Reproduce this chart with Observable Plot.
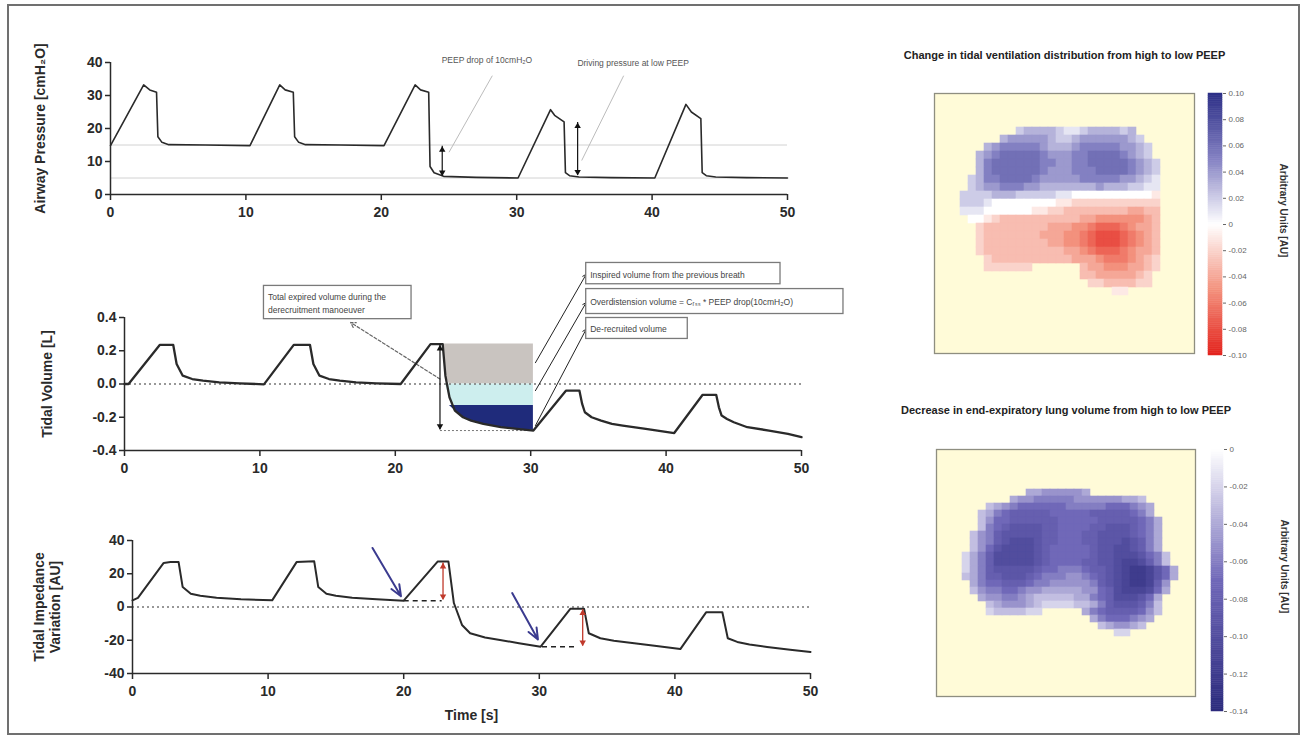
<!DOCTYPE html>
<html><head><meta charset="utf-8">
<script src="https://cdn.jsdelivr.net/npm/d3@7"></script>
<script src="https://cdn.jsdelivr.net/npm/@observablehq/plot@0.6"></script>
<style>
body{margin:0;background:#fff;}
#fig{position:relative;width:1306px;height:741px;overflow:hidden;background:#fff;font-family:"Liberation Sans",Arial,sans-serif;}
#border{position:absolute;left:7px;top:4px;width:1293px;height:731px;border:2px solid #707070;box-sizing:border-box;}
.panel{position:absolute;}
.panel svg{overflow:visible;max-width:none;}
.lp g[aria-label$="tick label"]{font-weight:bold;}
</style></head>
<body><div id="fig"><div id="border"></div></div>
<script>
// ---------------- DATA ----------------
const timeTicks = [0, 10, 20, 30, 40, 50];
const pressureTicks = [0, 10, 20, 30, 40];
const volumeTicks = [-0.4, -0.2, 0, 0.2, 0.4];
const impedanceTicks = [-40, -20, 0, 20, 40];

// Airway pressure [cmH2O]
const pressureTime  = [0, 0.2, 2.45, 2.9, 3.4, 3.5, 3.8, 4.3, 7, 10.3, 12.5, 12.9, 13.5, 13.6, 13.9, 14.4, 17, 20.2, 22.5, 22.9, 23.5, 23.6, 23.9, 24.6, 27, 30.1, 32.5, 32.8, 33.5, 33.6, 33.9, 34.6, 37, 40.2, 42.5, 42.9, 43.6, 43.7, 44.0, 44.7, 47, 50];
const pressureValue = [14.8, 16.3, 33.2, 31.7, 31.0, 17.5, 15.8, 15.1, 15, 14.8, 33.2, 31.7, 31.0, 17.5, 15.8, 15.1, 15, 14.8, 33.2, 31.7, 31.0, 8.5, 6.6, 5.5, 5.2, 5, 25.7, 24.0, 22.0, 6.6, 5.7, 5.3, 5.1, 5, 27.3, 25.0, 23.0, 6.6, 5.7, 5.3, 5.1, 5];
const peepLevels = [15, 5];
const pressureArrows = [{t: 24.5, lo: 5.6, hi: 14.6}, {t: 34.5, lo: 5.8, hi: 21.8}];
const pressureNotes = [{t: 27.8, p: 40.6, text: "PEEP drop of 10cmH₂O"}, {t: 38.6, p: 39.9, text: "Driving pressure at low PEEP"}];
const pressureLeaders = [{t1: 28.2, p1: 36, t2: 25.0, p2: 12.8}, {t1: 37.9, p1: 36, t2: 34.8, p2: 10.3}];

// Tidal volume [L]
const volumeTime  = [0, 0.3, 2.6, 3.6, 3.85, 4.3, 5.0, 5.8, 7.0, 8.5, 10.3, 12.5, 13.7, 13.95, 14.4, 15.1, 15.9, 17.1, 18.6, 20.4, 22.6, 23.5, 23.7, 24.0, 24.4, 25.0, 25.6, 26.5, 27.8, 29.0, 30.2, 32.6, 33.6, 33.8, 34.0, 34.5, 35.2, 36.0, 36.8, 38.5, 40.6, 42.7, 43.7, 43.9, 44.1, 44.5, 45.0, 46.0, 47.6, 49.0, 50];
const volumeValue = [0, 0, 0.235, 0.235, 0.12, 0.05, 0.03, 0.02, 0.01, 0.004, -0.002, 0.235, 0.235, 0.12, 0.05, 0.03, 0.02, 0.01, 0.004, 0, 0.24, 0.24, 0.05, -0.08, -0.16, -0.2, -0.22, -0.24, -0.26, -0.27, -0.28, -0.04, -0.04, -0.12, -0.17, -0.2, -0.22, -0.24, -0.25, -0.27, -0.295, -0.065, -0.065, -0.14, -0.19, -0.21, -0.23, -0.26, -0.28, -0.30, -0.32];
const manoeuvreWindow = [23.5, 30.2];
const volumeBands = [
  {name: "Inspired volume from the previous breath", lo: 0, hi: 0.24, color: "#c9c4c0"},
  {name: "Overdistension volume", lo: -0.13, hi: 0, color: "#cdeeee"},
  {name: "De-recruited volume", lo: -1, hi: -0.13, color: "#1f2b7b"}
];
const volumeBoxes = [
  {t1: 10.3, t2: 21.2, v1: 0.39, v2: 0.59, vm: 0.49, text: "Total expired volume during the\nderecruitment manoeuver"},
  {t1: 34.1, t2: 48.45, v1: 0.60, v2: 0.728, vm: 0.664, text: "Inspired volume from the previous breath"},
  {t1: 34.1, t2: 53.1, v1: 0.421, v2: 0.571, vm: 0.496, text: "Overdistension volume = Cᵣₛₛ * PEEP drop(10cmH₂O)"},
  {t1: 34.1, t2: 41.6, v1: 0.271, v2: 0.397, vm: 0.334, text: "De-recruited volume"}
];
const volumeLeaders = [
  {t1: 30.35, v1: 0.128, t2: 34.1, v2: 0.66},
  {t1: 30.35, v1: -0.04, t2: 34.1, v2: 0.49},
  {t1: 30.35, v1: -0.25, t2: 34.1, v2: 0.33}
];
const totalLeader = [{t1: 23.3, v1: 0.03, t2: 16.7, v2: 0.37}];
const totalArrow = [{t: 23.3, lo: -0.275, hi: 0.235}];
const totalBase = [{t1: 23.3, t2: 30.2, v: -0.28}];

// Tidal impedance variation [AU]
const impedanceTime  = [0, 0.4, 2.3, 2.8, 3.4, 3.7, 4.3, 5.0, 6.2, 8.0, 10.3, 12.1, 13.4, 13.7, 14.3, 15.0, 16.2, 18.0, 20.0, 22.5, 23.3, 23.7, 24.3, 24.9, 26.0, 27.1, 28.5, 30.1, 32.3, 33.3, 33.65, 34.5, 35.5, 37.0, 38.5, 40.4, 42.3, 43.5, 43.9, 44.6, 45.5, 46.8, 48.5, 50];
const impedanceValue = [4, 5.5, 26.5, 27, 27, 12, 8, 6.8, 5.6, 4.7, 4, 27, 27.5, 12, 8, 6.8, 5.6, 4.6, 3.8, 27.3, 27.3, 2.4, -10.8, -15.8, -18.3, -19.8, -21.8, -23.9, -1, -1, -15.8, -18.8, -20.3, -21.8, -23.3, -25.3, -3.2, -3.2, -18.8, -21, -22.5, -24, -25.7, -27];
const endExpLines = [{t1: 20.0, t2: 22.8, z: 3.8}, {t1: 30.2, t2: 32.8, z: -23.9}];
const impedanceArrows = [{t: 22.9, lo: 4.3, hi: 26.5}, {t: 33.2, lo: -23.5, hi: -1.5}];
const blueArrows = [{t1: 17.7, z1: 35.5, t2: 19.8, z2: 6.5}, {t1: 28.0, z1: 8.4, t2: 29.9, z2: -19.5}];

// EIT images: [row, first column, codes]; '0' = 0, A..J = +0.01..+0.10, a..j = -0.01..-0.10
const tidalRows = [
  [4, 10, "BCCCCBAABCCCCBC"],
  [5, 8, "CDDDDDCBBCDDDDDDCB"],
  [6, 6, "CDEEEEEDCCCDEEEEEDDCB"],
  [7, 5, "CDEFFFFFEDDDEEFFFFEDCB"],
  [8, 5, "CEFFFFFFEEDDEEFFFFFEDCB"],
  [9, 5, "CEFFFFFFEDDDEEEFFFFEDCB"],
  [10, 4, "BCEEFFFFEDDDDDEEEEEDDCBA"],
  [11, 4, "BCDDEEEDDCCCCCCCDCCCBBAA"],
  [12, 3, "BBBBCCCBBBBBAA0000000000a"],
  [13, 3, "BBBA00000000aabbbbbbbbbbb"],
  [14, 3, "AAA000000aabbccccccccddcc"],
  [15, 4, "00abccccccccccddeeeeeedc"],
  [16, 5, "bccccccccdddeefgggfeddc"],
  [17, 5, "bcccccccdddeefghhhgfedc"],
  [18, 5, "bccccccccddeefghhhgfedc"],
  [19, 5, "bccccccccccddefgggfeddc"],
  [20, 6, "bccccccccccdddefffedcb"],
  [21, 6, "bbbbbb"], [21, 18, "cddeeeddcb"],
  [22, 18, "ccdddddcb"],
  [23, 19, "bbccccbb"],
  [24, 22, "aa"]
];
// a..n = -0.01..-0.14
const eelvRows = [
  [4, 11, "ddeeeeed"],
  [5, 9, "deefffffeeeeeeddc"],
  [6, 6, "cdefggggggfffffgggfed"],
  [7, 5, "cdfghhhhhggggghhhhhgfd"],
  [8, 5, "cegghhhhhhggggghhhhhgfd"],
  [9, 5, "cfghiiiihhgggghhiiihgfd"],
  [10, 4, "cefhiiiiihhggghhiiiihgfd"],
  [11, 4, "cefhijjjihhggghhiiijihfd"],
  [12, 4, "cegijjjjihggggghiijjihfd"],
  [13, 3, "bdfhjjjjjihggggghiijjjigfc"],
  [14, 3, "bdfhjjjjjihgggghhiijkkjhfc"],
  [15, 3, "bdfhiiiiihggfffghhijkllkigd"],
  [16, 3, "cdfhhiiihgfffeefghijkllkigd"],
  [17, 4, "dfgghhhgffeeeeefhijkllkhe"],
  [18, 4, "ceffggfeedddddeeghjkkkjgd"],
  [19, 5, "deeffedcccccddfghjjjigd"],
  [20, 6, "cdeeedcbbbbccdfhiiihfc"],
  [21, 6, "bccccbb"], [21, 18, "dfghhhhgec"],
  [22, 19, "dfgggfed"],
  [23, 20, "cdeedc"],
  [24, 22, "bb"]
];
const tidalTicks = [0.10, 0.08, 0.06, 0.04, 0.02, 0, -0.02, -0.04, -0.06, -0.08, -0.10];
const eelvTicks = [0, -0.02, -0.04, -0.06, -0.08, -0.10, -0.12, -0.14];
const titles = ["Change in tidal ventilation distribution from high to low PEEP", "Decrease in end-expiratory lung volume from high to low PEEP"];

// ---------------- BUILD ----------------
const FONT = '"Liberation Sans", Arial, Helvetica, sans-serif';
const AX = "#2a2a2a";
const fig = document.getElementById("fig");
function place(svg, left, top, cls) {
  const d = document.createElement("div");
  d.className = "panel " + (cls || "");
  d.style.left = left + "px"; d.style.top = top + "px";
  d.appendChild(svg); fig.appendChild(d);
}
const style = {fontFamily: FONT, background: "transparent", overflow: "visible"};
const pressure = pressureTime.map((t, i) => ({t, p: pressureValue[i]}));
const volume = volumeTime.map((t, i) => ({t, v: volumeValue[i]}));
const impedance = impedanceTime.map((t, i) => ({t, z: impedanceValue[i]}));
const axisOpts = {tickSize: 5, tickPadding: 3, fontSize: 14, fontWeight: "bold", color: AX, strokeWidth: 1.5, label: null};
const xAxisOpts = {...axisOpts, tickSize: 6, tickPadding: 7};
function tri(data, x, y, down, fill) {
  return Plot.dot(data, {x, y, symbol: "triangle", r: 2.4, fill, stroke: null, rotate: down ? 180 : 0, dy: down ? -3.6 : 3.6});
}
const yLabel = {frameAnchor: "left", rotate: -90, textAnchor: "middle", lineAnchor: "middle", fontSize: 14, fontWeight: "bold", fill: AX};

// Panel A: airway pressure
place(Plot.plot({
  width: 830, height: 240, marginLeft: 110, marginRight: 43, marginTop: 62, marginBottom: 46, style,
  x: {domain: [0, 50]}, y: {domain: [0, 40]},
  marks: [
    Plot.ruleY(peepLevels, {stroke: "#d2d2d2", strokeWidth: 1}),
    Plot.link(pressureLeaders, {x1: "t1", y1: "p1", x2: "t2", y2: "p2", stroke: "#bcbcbc", strokeWidth: 1}),
    Plot.line(pressure, {x: "t", y: "p", stroke: AX, strokeWidth: 1.6}),
    Plot.ruleX(pressureArrows, {x: "t", y1: "lo", y2: "hi", stroke: "#111", strokeWidth: 1.2}),
    tri(pressureArrows, "t", "hi", false, "#111"),
    tri(pressureArrows, "t", "lo", true, "#111"),
    Plot.text(pressureNotes, {x: "t", y: "p", text: "text", fontSize: 8.5, fill: "#555"}),
    Plot.ruleY([0], {stroke: AX, strokeWidth: 1.5}),
    Plot.ruleX([0], {stroke: AX, strokeWidth: 1.5}),
    Plot.axisX({...xAxisOpts, ticks: timeTicks, tickFormat: d => String(d)}),
    Plot.axisY({...axisOpts, ticks: pressureTicks, tickFormat: d => String(d)}),
    Plot.text(["Airway Pressure [cmH₂O]"], {...yLabel, dx: -70})
  ]
}), 0, 0, "lp");

// Panel B: tidal volume
const bandMarks = volumeBands.map(b => {
  const pts = volume.filter(d => d.t >= manoeuvreWindow[0] && d.t <= manoeuvreWindow[1])
    .map(d => ({t: d.t, y1: Math.max(b.lo, Math.min(b.hi, d.v)), y2: b.hi}));
  return Plot.areaY(pts, {x: "t", y1: "y1", y2: "y2", fill: b.color});
});
place(Plot.plot({
  width: 850, height: 250, marginLeft: 124, marginRight: 49, marginTop: 77, marginBottom: 40, style,
  x: {domain: [0, 50]}, y: {domain: [-0.4, 0.4]},
  marks: [
    ...bandMarks,
    Plot.ruleY([0], {stroke: "#777", strokeDasharray: "2,3", strokeWidth: 1.3}),
    Plot.link(totalBase, {x1: "t1", x2: "t2", y1: "v", y2: "v", stroke: "#777", strokeDasharray: "2,2", strokeWidth: 1}),
    Plot.arrow(totalLeader, {x1: "t1", y1: "v1", x2: "t2", y2: "v2", stroke: "#666", strokeDasharray: "3,2", strokeWidth: 1.2, headLength: 7}),
    Plot.arrow(volumeLeaders, {x1: "t1", y1: "v1", x2: "t2", y2: "v2", stroke: "#222", strokeWidth: 1, headLength: 6}),
    Plot.rect(volumeBoxes, {x1: "t1", x2: "t2", y1: "v1", y2: "v2", fill: "white", stroke: "#7a7a7a", strokeWidth: 1.3}),
    Plot.text(volumeBoxes, {x: "t1", y: "vm", text: "text", textAnchor: "start", dx: 4, fontSize: 8.5, fill: "#444", lineHeight: 1.45}),
    Plot.line(volume, {x: "t", y: "v", stroke: AX, strokeWidth: 2.3}),
    Plot.ruleX(totalArrow, {x: "t", y1: "lo", y2: "hi", stroke: "#111", strokeWidth: 1.2}),
    tri(totalArrow, "t", "hi", false, "#111"),
    tri(totalArrow, "t", "lo", true, "#111"),
    Plot.ruleY([-0.4], {stroke: AX, strokeWidth: 1.5}),
    Plot.ruleX([0], {stroke: AX, strokeWidth: 1.5}),
    Plot.axisX({...xAxisOpts, ticks: timeTicks, tickFormat: d => String(d)}),
    Plot.axisY({...axisOpts, ticks: volumeTicks, tickFormat: d => d.toFixed(1)}),
    Plot.text(["Tidal Volume [L]"], {...yLabel, dx: -77})
  ]
}), 0, 240, "lp");

// Panel C: tidal impedance variation
place(Plot.plot({
  width: 840, height: 241, marginLeft: 132, marginRight: 30, marginTop: 40, marginBottom: 68, style,
  x: {domain: [0, 50]}, y: {domain: [-40, 40]},
  marks: [
    Plot.ruleY([0], {stroke: "#777", strokeDasharray: "2,3", strokeWidth: 1.3}),
    Plot.link(endExpLines, {x1: "t1", x2: "t2", y1: "z", y2: "z", stroke: "#222", strokeDasharray: "5,4", strokeWidth: 1.5}),
    Plot.line(impedance, {x: "t", y: "z", stroke: AX, strokeWidth: 2}),
    Plot.ruleX(impedanceArrows, {x: "t", y1: "lo", y2: "hi", stroke: "#c0392b", strokeWidth: 1.3}),
    tri(impedanceArrows, "t", "hi", false, "#c0392b"),
    tri(impedanceArrows, "t", "lo", true, "#c0392b"),
    Plot.arrow(blueArrows, {x1: "t1", y1: "z1", x2: "t2", y2: "z2", stroke: "#3b3b8f", strokeWidth: 2, headLength: 9, headAngle: 45}),
    Plot.ruleY([-40], {stroke: AX, strokeWidth: 1.5}),
    Plot.ruleX([0], {stroke: AX, strokeWidth: 1.5}),
    Plot.axisX({...xAxisOpts, ticks: timeTicks, tickFormat: d => String(d)}),
    Plot.axisY({...axisOpts, ticks: impedanceTicks, tickFormat: d => String(d)}),
    Plot.text(["Tidal Impedance\nVariation [AU]"], {...yLabel, dx: -86, lineHeight: 1.15}),
    Plot.text(["Time [s]"], {frameAnchor: "bottom", dy: 42, lineAnchor: "middle", fontSize: 14, fontWeight: "bold", fill: AX})
  ]
}), 0, 500, "lp");

// Heatmaps
function decodeDiv(ch) {
  if (ch === "0") return 0;
  const c = ch.charCodeAt(0);
  return c <= 90 ? (c - 64) / 100 : -(c - 96) / 100;
}
const tidalCells = tidalRows.flatMap(([r, c0, s]) => Array.from(s, (ch, i) => ({r, c: c0 + i, v: decodeDiv(ch)})));
const eelvCells = eelvRows.flatMap(([r, c0, s]) => Array.from(s, (ch, i) => ({r, c: c0 + i, v: -(ch.charCodeAt(0) - 96) / 100})));
const grid = d3.range(32);
const tidalColor = {type: "linear", domain: [-0.1, -0.05, 0, 0.05, 0.1], range: ["#e3221c", "#f3917d", "#ffffff", "#8380c2", "#2c2f86"], interpolate: "rgb"};
const eelvColor = {type: "linear", domain: [-0.14, -0.07, 0], range: ["#2b2a7c", "#7068b8", "#ffffff"], interpolate: "rgb"};
function heat(cells, color, title, ml, mr, mt, mb, h, tdy) {
  return Plot.plot({
    width: 450, height: h, marginLeft: ml, marginRight: mr, marginTop: mt, marginBottom: mb, style,
    x: {type: "band", domain: grid, padding: 0, axis: null},
    y: {type: "band", domain: grid, padding: 0, axis: null},
    color,
    marks: [
      Plot.frame({fill: "#fffbd8"}),
      Plot.cell(cells, {x: "c", y: "r", fill: "v", stroke: "v", strokeWidth: 0.6, inset: 0}),
      Plot.frame({stroke: "#8e8e80", strokeWidth: 1.3}),
      Plot.text([title], {frameAnchor: "top", dy: tdy, lineAnchor: "middle", fontSize: 11, fontWeight: "bold", fill: "#222"})
    ]
  });
}
place(heat(tidalCells, tidalColor, titles[0], 84, 106, 93, 17, 370, -38), 850, 0);
place(heat(eelvCells, eelvColor, titles[1], 86, 105, 59, 14, 320, -39), 850, 390);

// Colour bars
function colorbar(domain, color, ticks, ml, bw, mt, mb, h, dy) {
  const [a, b] = domain, n = 120, step = (b - a) / n;
  const ramp = d3.range(n).map(i => ({lo: a + i * step, hi: a + (i + 1) * step, v: a + (i + 0.5) * step}));
  return Plot.plot({
    width: 110, height: h, marginLeft: ml, marginRight: 110 - ml - bw, marginTop: mt, marginBottom: mb, style,
    x: {domain: [0, 1], axis: null}, y: {domain},
    color,
    marks: [
      Plot.rect(ramp, {x1: 0, x2: 1, y1: "lo", y2: "hi", fill: "v", stroke: "v", strokeWidth: 0.5}),
      Plot.axisY({anchor: "right", ticks, tickSize: 3, tickPadding: 3, fontSize: 8, color: "#666", label: null, tickFormat: d => d === 0 ? "0" : d.toFixed(2)}),
      Plot.text(["Arbitrary Units [AU]"], {frameAnchor: "right", dx: 61, dy, rotate: 90, textAnchor: "middle", lineAnchor: "middle", fontSize: 10, fontWeight: "bold", fill: "#333"})
    ]
  });
}
place(colorbar([-0.1, 0.1], tidalColor, tidalTicks, 18, 14, 93, 15, 370, -14), 1190, 0);
place(colorbar([-0.14, 0], eelvColor, eelvTicks, 21, 12, 59, 14, 335, -14), 1190, 390);
</script></body></html>
